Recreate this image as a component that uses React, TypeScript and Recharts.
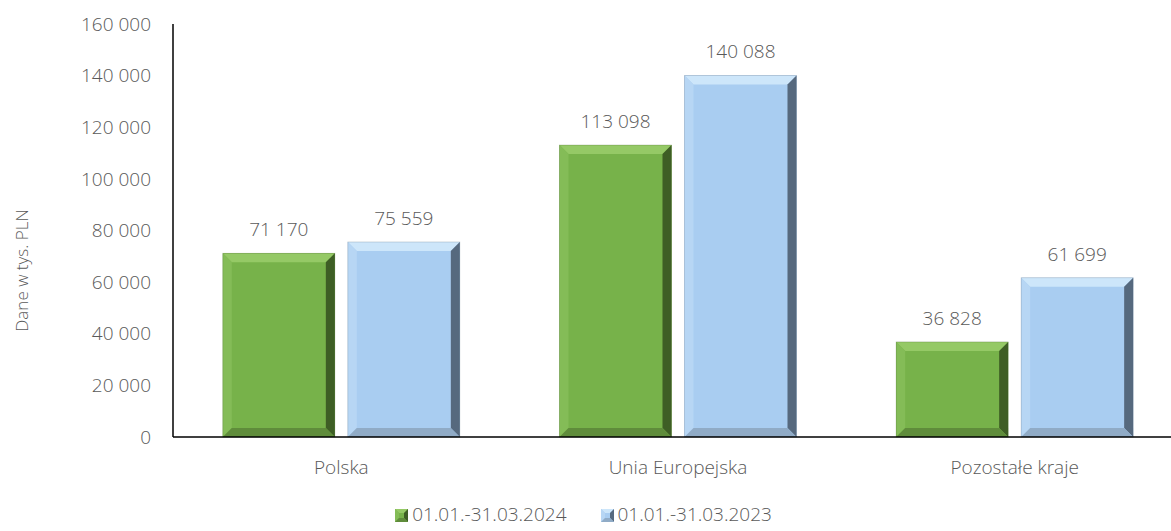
import { BarChart, Bar, XAxis, YAxis, Legend, LabelList } from "recharts"

const categories = ["Polska", "Unia Europejska", "Pozostałe kraje"]
const series2024 = [71170, 113098, 36828]
const series2023 = [75559, 140088, 61699]
const yTicks = [0, 20000, 40000, 60000, 80000, 100000, 120000, 140000, 160000]
const seriesNames = ["01.01.-31.03.2024", "01.01.-31.03.2023"]

const data = categories.map((name, i) => ({
  name,
  a: series2024[i],
  b: series2023[i],
}))

const FONT = "'Open Sans', 'Noto Sans', sans-serif"
const TEXT = "#595959"

const palettes: Record<string, { face: string; top: string; left: string; right: string; bottom: string }> = {
  green: { face: "#77B24A", top: "#95C966", left: "#84BC57", right: "#3E5E25", bottom: "#5F8C3B" },
  blue: { face: "#A9CDF1", top: "#CDE6FA", left: "#B7D6F4", right: "#56697E", bottom: "#90ABC6" },
}

const fmt = (v: number) => String(v).replace(/\B(?=(\d{3})+(?!\d))/g, " ")

function BevelBar(props: any) {
  const { x, y, width, height, kind } = props
  if (!height || height <= 0) return null
  const p = palettes[kind]
  const b = Math.min(9, height / 3, width / 3)
  const x2 = x + width
  const y2 = y + height
  return (
    <g>
      <rect x={x} y={y} width={width} height={height} fill={p.face} />
      <polygon points={`${x},${y} ${x2},${y} ${x2 - b},${y + b} ${x + b},${y + b}`} fill={p.top} />
      <polygon points={`${x},${y} ${x + b},${y + b} ${x + b},${y2 - b} ${x},${y2}`} fill={p.left} />
      <polygon points={`${x2},${y} ${x2},${y2} ${x2 - b},${y2 - b} ${x2 - b},${y + b}`} fill={p.right} />
      <polygon points={`${x},${y2} ${x + b},${y2 - b} ${x2 - b},${y2 - b} ${x2},${y2}`} fill={p.bottom} />
      <rect x={x} y={y} width={width} height={height} fill="none" stroke={p.right} strokeOpacity={0.3} strokeWidth={0.8} />
    </g>
  )
}

function LegendMark({ kind }: { kind: string }) {
  const p = palettes[kind]
  const s = 13
  const b = 4
  return (
    <svg width={s} height={s} style={{ marginRight: 4, verticalAlign: "-1px" }}>
      <rect x={0} y={0} width={s} height={s} fill={p.face} />
      <polygon points={`0,0 ${s},0 ${s - b},${b} ${b},${b}`} fill={p.top} />
      <polygon points={`0,0 ${b},${b} ${b},${s - b} 0,${s}`} fill={p.left} />
      <polygon points={`${s},0 ${s},${s} ${s - b},${s - b} ${s - b},${b}`} fill={p.right} />
      <polygon points={`0,${s} ${b},${s - b} ${s - b},${s - b} ${s},${s}`} fill={p.bottom} />
    </svg>
  )
}

function LegendContent() {
  return (
    <div style={{ display: "flex", justifyContent: "center", gap: 34, fontFamily: FONT, fontWeight: 300, fontSize: 19, lineHeight: "22px", color: TEXT, paddingRight: 16 }}>
      <span><LegendMark kind="green" />{seriesNames[0]}</span>
      <span><LegendMark kind="blue" />{seriesNames[1]}</span>
    </div>
  )
}

const tickStyle = { fontSize: 19, fill: TEXT, fontFamily: FONT, fontWeight: 300 }

export default function App() {
  return (
    <div style={{ position: "absolute", left: 0, top: 0, width: 1171, height: 531, overflow: "hidden", background: "#fff" }}>
      <BarChart
        width={1183}
        height={531}
        data={data}
        margin={{ top: 24, right: 0, left: 0, bottom: 12 }}
        barCategoryGap="14.8%"
        barGap={13}
      >
        <XAxis
          dataKey="name"
          axisLine={{ stroke: "#000", strokeWidth: 1.5 }}
          tickLine={false}
          tickMargin={18}
          height={58}
          tick={tickStyle}
        />
        <YAxis
          width={173}
          domain={[0, 160000]}
          ticks={yTicks}
          interval={0}
          axisLine={{ stroke: "#000", strokeWidth: 1.5 }}
          tickLine={false}
          tickMargin={16}
          tickFormatter={fmt}
          tick={tickStyle}
          label={{
            value: "Dane w tys. PLN",
            angle: -90,
            position: "insideLeft",
            offset: 22,
            dy: 40,
            style: { fontSize: 17, fill: TEXT, fontFamily: FONT, fontWeight: 300, textAnchor: "middle" },
          }}
        />
        <Legend verticalAlign="bottom" height={24} content={<LegendContent />} wrapperStyle={{ bottom: 4 }} />
        <Bar dataKey="a" name={seriesNames[0]} fill={palettes.green.face} isAnimationActive={false} shape={(p: any) => <BevelBar {...p} kind="green" />}>
          <LabelList dataKey="a" position="top" offset={17} formatter={(v: any) => fmt(Number(v))} style={tickStyle} />
        </Bar>
        <Bar dataKey="b" name={seriesNames[1]} fill={palettes.blue.face} isAnimationActive={false} shape={(p: any) => <BevelBar {...p} kind="blue" />}>
          <LabelList dataKey="b" position="top" offset={17} formatter={(v: any) => fmt(Number(v))} style={tickStyle} />
        </Bar>
      </BarChart>
    </div>
  )
}
